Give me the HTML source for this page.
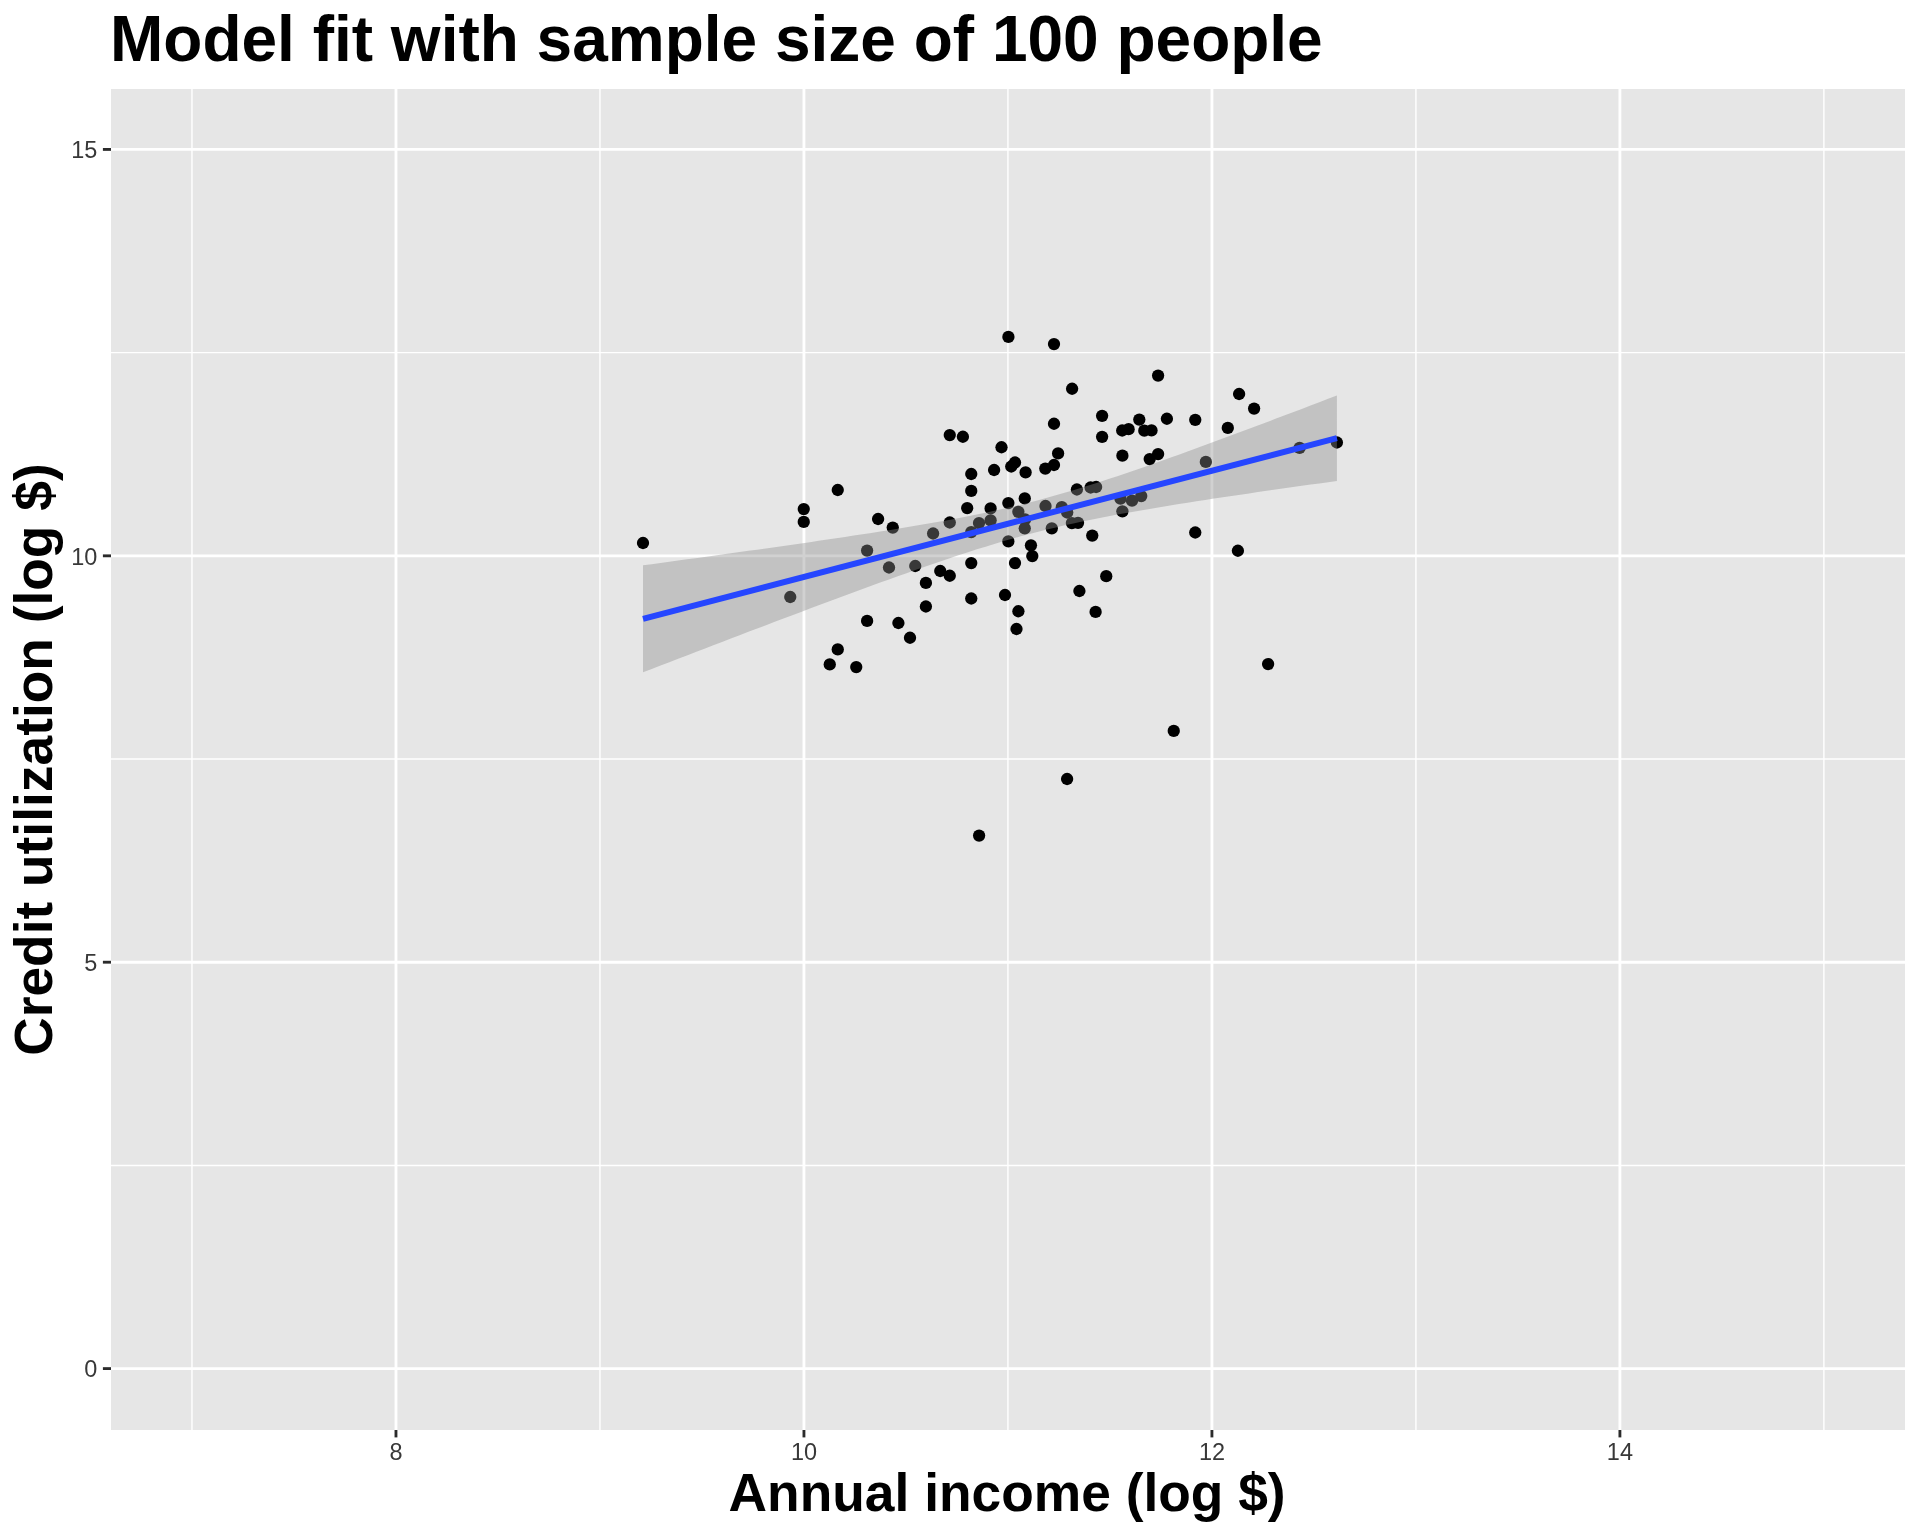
<!DOCTYPE html>
<html><head><meta charset="utf-8"><title>Model fit</title>
<style>
html,body{margin:0;padding:0;background:#fff;}
body{width:1920px;height:1536px;overflow:hidden;}
svg{display:block;will-change:transform;}
text{font-family:"Liberation Sans",sans-serif;}
.t{font-weight:bold;fill:#000;}
.a{font-size:23.47px;fill:#383838;}
</style></head><body>
<svg width="1920" height="1536" viewBox="0 0 1920 1536">
<rect x="0" y="0" width="1920" height="1536" fill="#FFFFFF"/>
<rect x="111" y="89" width="1794.00" height="1341.00" fill="#E6E6E6"/>
<g stroke="#FFFFFF" stroke-width="1.43" stroke-opacity="1">
<line x1="111" x2="1905" y1="1165.41" y2="1165.41"/>
<line x1="111" x2="1905" y1="759.02" y2="759.02"/>
<line x1="111" x2="1905" y1="352.64" y2="352.64"/>
<line y1="89" y2="1430" x1="191.98" x2="191.98"/>
<line y1="89" y2="1430" x1="599.96" x2="599.96"/>
<line y1="89" y2="1430" x1="1007.94" x2="1007.94"/>
<line y1="89" y2="1430" x1="1415.92" x2="1415.92"/>
<line y1="89" y2="1430" x1="1823.90" x2="1823.90"/>
</g>
<g stroke="#FFFFFF" stroke-width="2.85">
<line x1="111" x2="1905" y1="1368.60" y2="1368.60"/>
<line x1="111" x2="1905" y1="962.21" y2="962.21"/>
<line x1="111" x2="1905" y1="555.83" y2="555.83"/>
<line x1="111" x2="1905" y1="149.44" y2="149.44"/>
<line y1="89" y2="1430" x1="395.97" x2="395.97"/>
<line y1="89" y2="1430" x1="803.95" x2="803.95"/>
<line y1="89" y2="1430" x1="1211.93" x2="1211.93"/>
<line y1="89" y2="1430" x1="1619.91" x2="1619.91"/>
</g>
<g fill="#000000">
<circle cx="643.00" cy="543.00" r="6.15"/>
<circle cx="803.75" cy="509.10" r="6.15"/>
<circle cx="803.75" cy="521.90" r="6.15"/>
<circle cx="837.75" cy="490.00" r="6.15"/>
<circle cx="790.25" cy="597.00" r="6.15"/>
<circle cx="837.75" cy="649.40" r="6.15"/>
<circle cx="829.75" cy="664.40" r="6.15"/>
<circle cx="856.25" cy="667.10" r="6.15"/>
<circle cx="971.25" cy="474.00" r="6.15"/>
<circle cx="994.10" cy="470.00" r="6.15"/>
<circle cx="1011.25" cy="466.50" r="6.15"/>
<circle cx="1025.60" cy="472.40" r="6.15"/>
<circle cx="1045.30" cy="468.60" r="6.15"/>
<circle cx="971.25" cy="490.90" r="6.15"/>
<circle cx="1076.90" cy="489.50" r="6.15"/>
<circle cx="1090.60" cy="487.50" r="6.15"/>
<circle cx="1096.10" cy="487.00" r="6.15"/>
<circle cx="1024.75" cy="498.40" r="6.15"/>
<circle cx="1008.35" cy="503.10" r="6.15"/>
<circle cx="967.20" cy="508.10" r="6.15"/>
<circle cx="990.60" cy="508.40" r="6.15"/>
<circle cx="1045.50" cy="506.00" r="6.15"/>
<circle cx="1061.80" cy="507.20" r="6.15"/>
<circle cx="1018.35" cy="511.80" r="6.15"/>
<circle cx="1067.20" cy="512.50" r="6.15"/>
<circle cx="1025.00" cy="519.40" r="6.15"/>
<circle cx="878.10" cy="519.00" r="6.15"/>
<circle cx="892.75" cy="527.60" r="6.15"/>
<circle cx="949.75" cy="522.50" r="6.15"/>
<circle cx="979.00" cy="523.10" r="6.15"/>
<circle cx="990.60" cy="520.30" r="6.15"/>
<circle cx="933.10" cy="533.50" r="6.15"/>
<circle cx="971.25" cy="532.10" r="6.15"/>
<circle cx="1024.75" cy="528.30" r="6.15"/>
<circle cx="1051.80" cy="528.30" r="6.15"/>
<circle cx="1071.90" cy="523.10" r="6.15"/>
<circle cx="1078.00" cy="522.85" r="6.15"/>
<circle cx="1092.25" cy="535.55" r="6.15"/>
<circle cx="1008.35" cy="541.40" r="6.15"/>
<circle cx="1030.95" cy="545.35" r="6.15"/>
<circle cx="1032.30" cy="556.10" r="6.15"/>
<circle cx="867.10" cy="550.60" r="6.15"/>
<circle cx="971.25" cy="563.10" r="6.15"/>
<circle cx="1015.00" cy="563.10" r="6.15"/>
<circle cx="889.00" cy="567.50" r="6.15"/>
<circle cx="915.25" cy="566.00" r="6.15"/>
<circle cx="940.25" cy="571.00" r="6.15"/>
<circle cx="949.75" cy="575.75" r="6.15"/>
<circle cx="925.90" cy="582.90" r="6.15"/>
<circle cx="925.90" cy="606.50" r="6.15"/>
<circle cx="971.25" cy="598.50" r="6.15"/>
<circle cx="1005.00" cy="595.00" r="6.15"/>
<circle cx="1079.40" cy="591.00" r="6.15"/>
<circle cx="1018.40" cy="611.25" r="6.15"/>
<circle cx="1095.60" cy="611.90" r="6.15"/>
<circle cx="867.10" cy="620.90" r="6.15"/>
<circle cx="898.40" cy="623.00" r="6.15"/>
<circle cx="910.00" cy="637.75" r="6.15"/>
<circle cx="1016.50" cy="629.00" r="6.15"/>
<circle cx="1008.40" cy="336.90" r="6.15"/>
<circle cx="1054.00" cy="344.10" r="6.15"/>
<circle cx="1072.10" cy="388.75" r="6.15"/>
<circle cx="1102.10" cy="415.85" r="6.15"/>
<circle cx="1054.00" cy="423.75" r="6.15"/>
<circle cx="1102.10" cy="436.85" r="6.15"/>
<circle cx="949.75" cy="435.10" r="6.15"/>
<circle cx="962.90" cy="436.75" r="6.15"/>
<circle cx="1001.50" cy="447.25" r="6.15"/>
<circle cx="1058.10" cy="453.40" r="6.15"/>
<circle cx="1015.00" cy="462.50" r="6.15"/>
<circle cx="1054.00" cy="465.00" r="6.15"/>
<circle cx="1158.10" cy="375.60" r="6.15"/>
<circle cx="1239.10" cy="394.00" r="6.15"/>
<circle cx="1254.10" cy="408.60" r="6.15"/>
<circle cx="1139.30" cy="419.60" r="6.15"/>
<circle cx="1166.90" cy="418.75" r="6.15"/>
<circle cx="1195.25" cy="419.80" r="6.15"/>
<circle cx="1227.80" cy="427.95" r="6.15"/>
<circle cx="1122.20" cy="430.50" r="6.15"/>
<circle cx="1128.60" cy="429.20" r="6.15"/>
<circle cx="1144.30" cy="430.70" r="6.15"/>
<circle cx="1151.50" cy="430.40" r="6.15"/>
<circle cx="1122.40" cy="455.65" r="6.15"/>
<circle cx="1158.10" cy="454.05" r="6.15"/>
<circle cx="1149.70" cy="459.10" r="6.15"/>
<circle cx="1205.85" cy="461.90" r="6.15"/>
<circle cx="1299.60" cy="447.90" r="6.15"/>
<circle cx="1336.90" cy="442.50" r="6.15"/>
<circle cx="1120.50" cy="498.70" r="6.15"/>
<circle cx="1132.00" cy="500.70" r="6.15"/>
<circle cx="1141.25" cy="496.10" r="6.15"/>
<circle cx="1122.40" cy="511.35" r="6.15"/>
<circle cx="1195.25" cy="532.50" r="6.15"/>
<circle cx="1237.90" cy="550.75" r="6.15"/>
<circle cx="1106.25" cy="576.20" r="6.15"/>
<circle cx="1268.10" cy="664.10" r="6.15"/>
<circle cx="1173.75" cy="730.90" r="6.15"/>
<circle cx="1067.10" cy="779.00" r="6.15"/>
<circle cx="979.10" cy="835.60" r="6.15"/>
</g>
<polygon points="643.00,565.32 651.78,564.13 660.57,562.94 669.35,561.75 678.13,560.55 686.92,559.35 695.70,558.15 704.48,556.94 713.27,555.74 722.05,554.52 730.84,553.31 739.62,552.09 748.40,550.86 757.19,549.63 765.97,548.40 774.75,547.16 783.54,545.91 792.32,544.66 801.10,543.39 809.89,542.13 818.67,540.85 827.45,539.56 836.24,538.26 845.02,536.95 853.81,535.62 862.59,534.28 871.37,532.93 880.16,531.56 888.94,530.17 897.72,528.75 906.51,527.31 915.29,525.85 924.07,524.35 932.86,522.82 941.64,521.25 950.42,519.64 959.21,517.98 967.99,516.27 976.77,514.50 985.56,512.68 994.34,510.78 1003.13,508.81 1011.91,506.77 1020.69,504.65 1029.48,502.44 1038.26,500.15 1047.04,497.78 1055.83,495.32 1064.61,492.79 1073.39,490.18 1082.18,487.50 1090.96,484.75 1099.74,481.94 1108.53,479.07 1117.31,476.15 1126.09,473.19 1134.88,470.18 1143.66,467.14 1152.45,464.06 1161.23,460.96 1170.01,457.82 1178.80,454.66 1187.58,451.48 1196.36,448.28 1205.15,445.06 1213.93,441.83 1222.71,438.58 1231.50,435.32 1240.28,432.05 1249.06,428.76 1257.85,425.47 1266.63,422.17 1275.42,418.85 1284.20,415.54 1292.98,412.21 1301.77,408.88 1310.55,405.54 1319.33,402.20 1328.12,398.85 1336.90,395.50 1336.90,480.94 1328.12,482.16 1319.33,483.39 1310.55,484.61 1301.77,485.85 1292.98,487.09 1284.20,488.34 1275.42,489.59 1266.63,490.85 1257.85,492.12 1249.06,493.40 1240.28,494.68 1231.50,495.98 1222.71,497.29 1213.93,498.62 1205.15,499.95 1196.36,501.31 1187.58,502.68 1178.80,504.07 1170.01,505.48 1161.23,506.92 1152.45,508.38 1143.66,509.88 1134.88,511.40 1126.09,512.97 1117.31,514.58 1108.53,516.23 1099.74,517.93 1090.96,519.70 1082.18,521.52 1073.39,523.41 1064.61,525.37 1055.83,527.41 1047.04,529.52 1038.26,531.72 1029.48,534.00 1020.69,536.37 1011.91,538.82 1003.13,541.35 994.34,543.95 985.56,546.63 976.77,549.37 967.99,552.17 959.21,555.04 950.42,557.95 941.64,560.91 932.86,563.91 924.07,566.95 915.29,570.03 906.51,573.13 897.72,576.27 888.94,579.42 880.16,582.60 871.37,585.80 862.59,589.02 853.81,592.25 845.02,595.50 836.24,598.76 827.45,602.03 818.67,605.31 809.89,608.61 801.10,611.91 792.32,615.22 783.54,618.54 774.75,621.86 765.97,625.19 757.19,628.53 748.40,631.87 739.62,635.22 730.84,638.57 722.05,641.92 713.27,645.28 704.48,648.65 695.70,652.01 686.92,655.38 678.13,658.75 669.35,662.13 660.57,665.51 651.78,668.89 643.00,672.27" fill="#8B8B8B" fill-opacity="0.4"/>
<line x1="643.00" y1="618.79" x2="1336.90" y2="438.22" stroke="#2646FF" stroke-width="6.0" stroke-linecap="butt"/>
<g stroke="#2B2B2B" stroke-width="2.85">
<line x1="102.90" x2="111" y1="1368.60" y2="1368.60"/>
<line x1="102.90" x2="111" y1="962.21" y2="962.21"/>
<line x1="102.90" x2="111" y1="555.83" y2="555.83"/>
<line x1="102.90" x2="111" y1="149.44" y2="149.44"/>
<line y1="1430" y2="1437.40" x1="395.97" x2="395.97"/>
<line y1="1430" y2="1437.40" x1="803.95" x2="803.95"/>
<line y1="1430" y2="1437.40" x1="1211.93" x2="1211.93"/>
<line y1="1430" y2="1437.40" x1="1619.91" x2="1619.91"/>
</g>
<text class="a" x="97.4" y="1377.40" text-anchor="end">0</text>
<text class="a" x="97.4" y="971.01" text-anchor="end">5</text>
<text class="a" x="97.4" y="564.63" text-anchor="end">10</text>
<text class="a" x="97.4" y="158.24" text-anchor="end">15</text>
<text class="a" x="395.97" y="1460.0" text-anchor="middle">8</text>
<text class="a" x="803.95" y="1460.0" text-anchor="middle">10</text>
<text class="a" x="1211.93" y="1460.0" text-anchor="middle">12</text>
<text class="a" x="1619.91" y="1460.0" text-anchor="middle">14</text>
<text class="t" id="ttl" x="0" y="0" font-size="64" transform="translate(110.0,61.2)">Model fit with sample size of 100 people</text>
<text class="t" id="xt" x="0" y="0" font-size="53.33" text-anchor="middle" transform="translate(1007.1,1510.9)">Annual income (log $)</text>
<text class="t" id="yt" x="0" y="0" font-size="53.33" text-anchor="middle" transform="translate(52.1,759.6) rotate(-90)">Credit utilization (log $)</text>
</svg>
</body></html>
